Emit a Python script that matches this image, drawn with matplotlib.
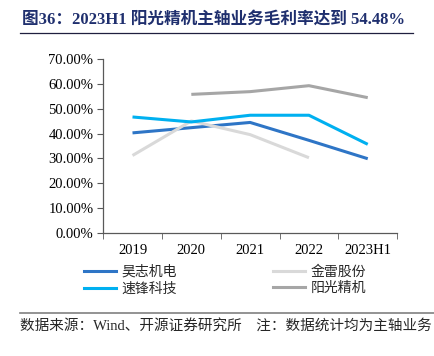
import matplotlib.pyplot as plt
from matplotlib.lines import Line2D
import numpy as np

plt.rcParams['font.family'] = ['Liberation Serif', 'Noto Sans CJK SC']
plt.rcParams['axes.unicode_minus'] = False

# === 数据 ===
years = ['2019', '2020', '2021', '2022', '2023H1']
haozhi = [40.3, 42.4, 44.5, 37.3, 29.9]       # 昊志机电
jinlei = [31.2, 45.1, 39.6, 30.3, np.nan]     # 金雷股份
sufeng = [46.7, 44.7, 47.4, 47.4, 35.7]       # 速锋科技
yangguang = [np.nan, 55.8, 56.9, 59.3, 54.48] # 阳光精机

series = [
    ('昊志机电', haozhi, '#2E75C6'),
    ('金雷股份', jinlei, '#D9D9D9'),
    ('速锋科技', sufeng, '#00B0F0'),
    ('阳光精机', yangguang, '#A6A6A6'),
]

fig = plt.figure(figsize=(4.35, 3.56), dpi=100)
ax = fig.add_axes([0.237, 0.3455, 0.676, 0.4885])

x = np.arange(len(years))
for name, vals, color in series:
    ax.plot(x, vals, color=color, lw=2.2, solid_capstyle='butt')

ax.set_xlim(-0.5, len(years) - 0.5)
ax.set_ylim(0, 70)
ax.set_yticks(np.arange(0, 71, 10))
ax.set_yticklabels([f'{v:.2f}%' for v in range(0, 71, 10)], fontsize=10.5)
ax.set_xticks(x)
ax.set_xticklabels(years, fontsize=10.5)
ax.tick_params(axis='x', length=0, pad=8)
ax.set_xticks(np.arange(-0.5, len(years)), minor=True)
ax.tick_params(axis='x', which='minor', length=4, color='#595959', direction='out')
ax.tick_params(axis='y', length=4, color='#595959', direction='out', pad=3)
for s in ['top', 'right']:
    ax.spines[s].set_visible(False)
for s in ['left', 'bottom']:
    ax.spines[s].set_color('#595959')
    ax.spines[s].set_linewidth(0.9)

# 图例（两列）
handles = [Line2D([0], [0], color=c, lw=2.2) for _, _, c in series]
labels = [n for n, _, _ in series]
order = [0, 2, 1, 3]
leg = fig.legend([handles[i] for i in order], [labels[i] for i in order],
                 ncol=2, loc='upper left', bbox_to_anchor=(0.165, 0.29),
                 frameon=False, fontsize=10, handlelength=2.3,
                 columnspacing=6.9, labelspacing=0.25, handletextpad=0.4)
for t in leg.get_texts():
    t.set_color('#262626')

# 标题
fig.text(0.05, 0.946, '图36：2023H1 阳光精机主轴业务毛利率达到 54.48%',
         fontsize=12, fontweight='bold', color='#1F2F6E', va='center', ha='left')
fig.add_artist(Line2D([0.046, 0.95], [0.906, 0.906], color='#1F1F3F', lw=0.9))

# 底部说明
fig.add_artist(Line2D([0.045, 1.0], [0.121, 0.121], color='#808080', lw=1.2))
fig.text(0.047, 0.085, '数据来源：Wind、开源证券研究所    注：数据统计均为主轴业务',
         fontsize=10.5, color='#262626', va='center', ha='left')

fig.savefig('out.png', dpi=100)
